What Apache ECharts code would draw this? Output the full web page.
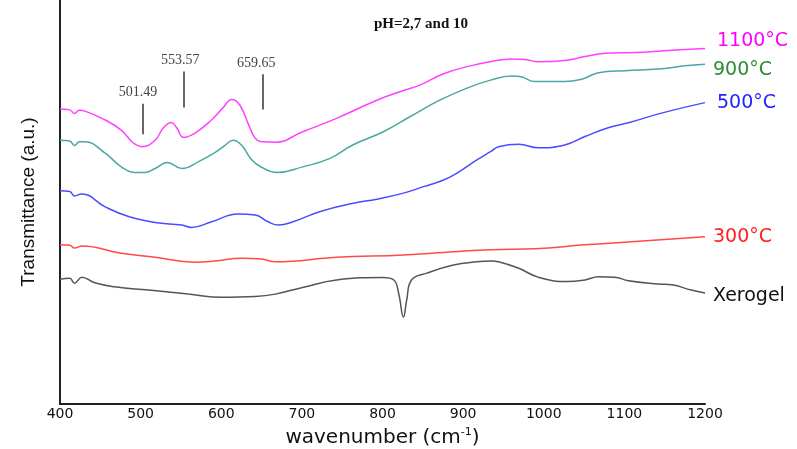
<!DOCTYPE html>
<html>
<head>
<meta charset="utf-8">
<script src="https://cdn.jsdelivr.net/npm/echarts@6/dist/echarts.min.js"></script>
<style>
  html, body { margin: 0; padding: 0; background: #fff; }
  #chart { width: 797px; height: 449px; }
</style>
</head>
<body>
<div id="chart"></div>
<script>
// FTIR spectra, transmittance in arbitrary units
const wn1100 = [400, 412, 418, 424, 431, 456, 476, 491, 502, 518, 528, 538, 545, 553, 567, 588, 602, 613, 623, 634, 642, 650, 667, 701, 743, 793, 826, 847, 875, 909, 933, 960, 977, 993, 1026, 1051, 1076, 1113, 1154, 1200];
const t1100 = [73.0, 72.8, 71.9, 72.7, 72.5, 70.3, 67.8, 64.6, 63.7, 65.3, 68.3, 69.7, 68.3, 66.0, 67.0, 70.3, 73.3, 75.4, 74.0, 69.1, 65.8, 64.9, 64.8, 67.4, 70.7, 75.2, 77.6, 79.0, 81.7, 83.7, 84.7, 85.4, 85.3, 84.7, 85.0, 86.0, 86.8, 87.0, 87.5, 88.0];

const wn900 = [400, 412, 418, 424, 431, 456, 476, 493, 505, 518, 533, 551, 572, 592, 605, 615, 625, 638, 650, 669, 701, 735, 763, 801, 834, 871, 909, 933, 960, 972, 989, 1026, 1047, 1068, 1101, 1142, 1175, 1200];
const t900 = [65.3, 65.1, 64.0, 64.9, 64.9, 62.1, 58.7, 57.3, 57.3, 58.3, 59.8, 58.3, 60.0, 62.2, 64.1, 65.3, 64.1, 60.4, 58.6, 57.3, 58.7, 60.8, 64.1, 67.4, 71.1, 75.2, 78.5, 80.1, 81.2, 81.0, 79.8, 79.8, 80.4, 82.0, 82.5, 82.9, 83.7, 84.1];

const wn500 = [400, 412, 418, 427, 456, 485, 518, 551, 563, 588, 621, 642, 658, 671, 689, 722, 764, 793, 826, 851, 875, 892, 917, 935, 944, 969, 993, 1026, 1051, 1080, 1105, 1146, 1200];
const t500 = [52.8, 52.6, 51.5, 52.0, 48.8, 46.4, 44.9, 44.3, 43.7, 45.1, 47.0, 46.8, 45.1, 44.3, 45.1, 47.6, 49.7, 50.7, 52.2, 53.8, 55.4, 57.1, 60.4, 62.6, 63.7, 64.3, 63.4, 64.1, 66.2, 68.4, 69.6, 72.0, 74.6];

const wn300 = [400, 412, 418, 427, 476, 518, 567, 592, 625, 650, 667, 743, 826, 888, 935, 989, 1051, 1113, 1200];
const t300 = [39.4, 39.3, 38.6, 39.1, 37.3, 36.3, 35.1, 35.4, 36.1, 35.9, 35.2, 36.3, 36.9, 37.7, 38.2, 38.4, 39.4, 40.2, 41.4];

const wnXero = [400, 412, 418, 427, 443, 468, 510, 559, 601, 642, 667, 702, 743, 801, 814, 820, 826, 830, 836, 855, 888, 917, 935, 944, 969, 993, 1030, 1051, 1068, 1088, 1105, 1142, 1159, 1183, 1200];
const tXero = [30.9, 31.1, 29.9, 31.4, 30.0, 29.0, 28.2, 27.2, 26.4, 26.6, 27.2, 28.9, 30.7, 31.3, 30.7, 27.4, 21.5, 25.7, 30.7, 32.4, 34.4, 35.2, 35.4, 35.2, 33.6, 31.4, 30.3, 30.7, 31.5, 31.4, 30.5, 29.7, 29.5, 28.2, 27.5];

const seriesNames = ['1100°C', '900°C', '500°C', '300°C', 'Xerogel'];
const lineColors = ['#ff40ff', '#4aa8a0', '#4b4bff', '#ff4a4a', '#555555'];
const labelColors = ['#ff00ff', '#2e8b2e', '#2222ff', '#ff2020', '#111111'];
const labelOffsets = [[4, -7], [0, 6], [4, 0], [0, 0], [0, 3]];

// peak markers on the 1100°C curve
const peakLabels = ['501.49', '553.57', '659.65'];
const peakPos = [503, 554, 651];
const peakLow = [66.8, 73.4, 72.9];
const peakHigh = [74.3, 82.3, 81.6];
const peakLabelShift = [-5, -4, -6];

const xTicks = [400, 500, 600, 700, 800, 900, 1000, 1100, 1200];

const zip = (xs, ys) => xs.map((x, i) => [x, ys[i]]);
const allData = [zip(wn1100, t1100), zip(wn900, t900), zip(wn500, t500), zip(wn300, t300), zip(wnXero, tXero)];

const chart = echarts.init(document.getElementById('chart'), null, { renderer: 'canvas' });

const series = allData.map((d, i) => ({
  name: seriesNames[i],
  type: 'line',
  data: d,
  symbol: 'none',
  smooth: 0.45,
  lineStyle: { color: lineColors[i], width: 1.5 },
  endLabel: {
    show: true,
    formatter: seriesNames[i],
    color: labelColors[i],
    fontFamily: 'DejaVu Sans',
    fontSize: 19,
    distance: 8,
    offset: labelOffsets[i]
  }
}));

series[0].markLine = {
  silent: true,
  symbol: 'none',
  lineStyle: { color: '#666', width: 2, type: 'solid' },
  label: {
    show: true,
    position: 'end',
    distance: 4,
    fontFamily: 'Liberation Serif',
    fontSize: 14,
    color: '#444'
  },
  data: peakPos.map((p, i) => [
    { coord: [p, peakLow[i]] },
    { coord: [p, peakHigh[i]], label: { formatter: peakLabels[i], offset: [peakLabelShift[i], 0] } }
  ])
};

const option = {
  animation: false,
  backgroundColor: '#fff',
  title: {
    text: 'pH=2,7 and 10',
    left: 374,
    top: 17,
    padding: 0,
    textStyle: { fontFamily: 'Liberation Serif', fontWeight: 'bold', fontSize: 15, color: '#111' }
  },
  grid: { left: 60, right: 92, top: 0, bottom: 45, outerBoundsMode: 'none' },
  xAxis: {
    type: 'value',
    min: 400,
    max: 1200,
    interval: 100,
    name: '{a|wavenumber (cm}{s|-1}{a|)}',
    nameLocation: 'middle',
    nameGap: 23,
    nameTextStyle: {
      rich: {
        a: { fontFamily: 'DejaVu Sans', fontSize: 20, color: '#111', verticalAlign: 'bottom' },
        s: { fontFamily: 'DejaVu Sans', fontSize: 11, color: '#111', verticalAlign: 'top', padding: [0, 0, 10, 0] }
      }
    },
    axisLine: { show: true, lineStyle: { color: '#222', width: 2 } },
    axisTick: { show: false },
    splitLine: { show: false },
    axisLabel: {
      margin: 3,
      fontFamily: 'DejaVu Sans',
      fontSize: 14,
      color: '#111',
      formatter: v => xTicks.includes(v) ? String(v) : ''
    }
  },
  yAxis: {
    type: 'value',
    min: 0,
    max: 100,
    name: 'Transmittance (a.u.)',
    nameLocation: 'middle',
    nameGap: 22,
    nameTextStyle: { fontFamily: 'Liberation Sans', fontSize: 19, color: '#111' },
    axisLine: { show: true, lineStyle: { color: '#222', width: 2 } },
    axisTick: { show: false },
    axisLabel: { show: false },
    splitLine: { show: false }
  },
  series: series
};

chart.setOption(option);
</script>
</body>
</html>
